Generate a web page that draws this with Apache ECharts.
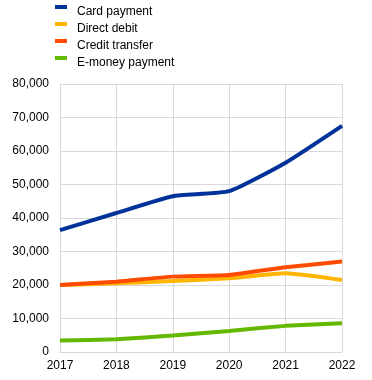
<!DOCTYPE html>
<html><head><meta charset="utf-8">
<script src="https://cdn.jsdelivr.net/npm/echarts@6/dist/echarts.min.js"></script>
<style>html,body{margin:0;padding:0;background:#fff}#c{width:372px;height:380px}</style>
</head><body><div id="c"></div>
<script>
const years = ['2017','2018','2019','2020','2021','2022'];
const cardPayment = [36400, 41500, 46500, 48000, 56500, 67500];
const directDebit = [20000, 20500, 21200, 22000, 23500, 21500];
const creditTransfer = [20000, 21000, 22500, 23000, 25300, 27000];
const eMoney = [3400, 3800, 4900, 6300, 7800, 8600];
const names = ['Card payment','Direct debit','Credit transfer','E-money payment'];
const colors = ['#003299','#FFB400','#FF4B00','#65B800'];
const seriesData = [cardPayment, directDebit, creditTransfer, eMoney];

const chart = echarts.init(document.getElementById('c'));
const font = 'Liberation Sans, Arial, sans-serif';
chart.setOption({
  animation:false,
  color: colors,
  legend:{
    orient:'vertical', left:55, top:5, padding:0,
    icon:'path://M0,0H12V4H0Z M0,14H0.01V14.01H0Z', itemWidth:12, itemHeight:14, itemGap:3,
    textStyle:{fontFamily:font, fontSize:12, color:'#000', padding:[0,0,0,5]},
    data: names
  },
  grid:{left:60, right:30, top:84, bottom:28},
  xAxis:{
    type:'category', data:years, boundaryGap:false,
    axisLine:{lineStyle:{color:'#d9d9d9'}}, axisTick:{show:false},
    axisLabel:{fontFamily:font, fontSize:12, color:'#000', margin:8},
    splitLine:{show:true, lineStyle:{color:'#d9d9d9'}}
  },
  yAxis:{
    type:'value', min:0, max:80000, interval:10000,
    axisLine:{show:true, lineStyle:{color:'#d9d9d9'}}, axisTick:{show:false},
    axisLabel:{fontFamily:font, fontSize:12, color:'#000', margin:11,
      formatter:v=>v.toLocaleString('en-US')},
    splitLine:{lineStyle:{color:'#d9d9d9'}}
  },
  series: [3,1,2,0].map(i=>({
    name:names[i], type:'line', data:seriesData[i], smooth:0.15,
    symbol:'none', lineStyle:{width:4, color:colors[i]}, itemStyle:{color:colors[i]}
  }))
});
</script></body></html>
